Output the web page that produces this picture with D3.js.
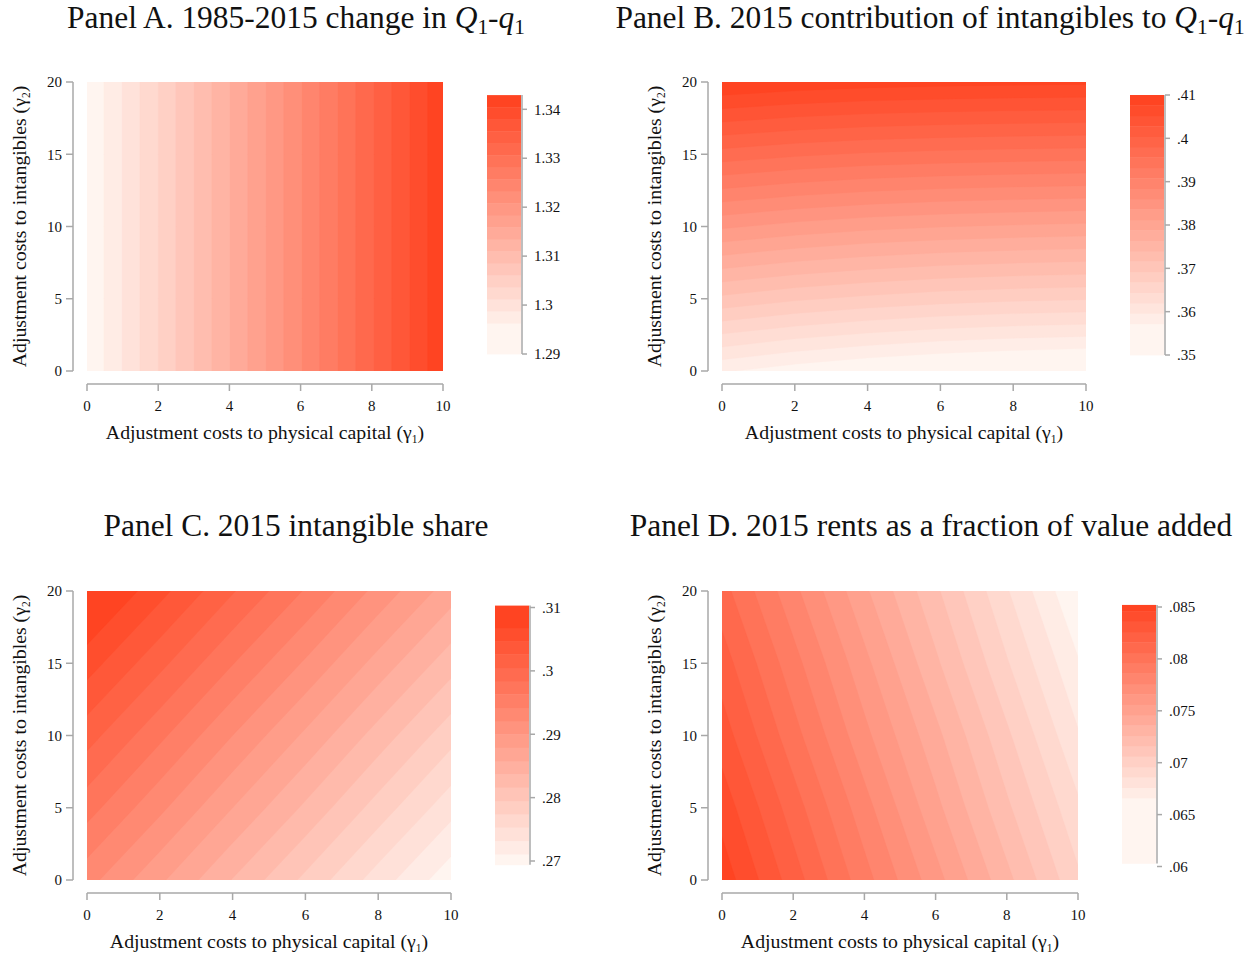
<!DOCTYPE html>
<html><head><meta charset="utf-8">
<script src="https://cdn.jsdelivr.net/npm/d3@7"></script>
<style>
body{margin:0;background:#fff;}
text{font-family:"Liberation Serif","Times New Roman",serif;fill:#111;}
</style>
</head><body>
<svg id="c" width="1254" height="958"></svg>
<script>
// ---------- data ----------
const gamma1 = [0, 2, 4, 6, 8, 10];       // grid columns
const gamma2 = [0, 5, 10, 15, 20];        // grid rows
const xTicks = [0, 2, 4, 6, 8, 10];
const yTicks = [0, 5, 10, 15, 20];

// Panel A: 1985-2015 change in Q1-q1 (rows: gamma2 = 0..20)
const valuesA = [
  [1.2940, 1.3037, 1.3134, 1.3231, 1.3328, 1.3425],
  [1.2940, 1.3037, 1.3134, 1.3231, 1.3328, 1.3425],
  [1.2940, 1.3037, 1.3134, 1.3231, 1.3328, 1.3425],
  [1.2940, 1.3037, 1.3134, 1.3231, 1.3328, 1.3425],
  [1.2940, 1.3037, 1.3134, 1.3231, 1.3328, 1.3425]
];
const cutsA = [1.2963,1.2988,1.3012,1.3037,1.3061,1.3086,1.3110,1.3135,1.3159,1.3184,
               1.3208,1.3233,1.3257,1.3282,1.3306,1.3331,1.3355,1.3380,1.3404];
const ticksA = [1.29, 1.30, 1.31, 1.32, 1.33, 1.34];
const labelsA = ["1.29","1.3","1.31","1.32","1.33","1.34"];

// Panel B: 2015 contribution of intangibles to Q1-q1
const valuesB = [
  [0.3575, 0.3559, 0.3547, 0.3538, 0.3532, 0.3528],
  [0.3710, 0.3696, 0.3686, 0.3678, 0.3673, 0.3670],
  [0.3840, 0.3828, 0.3819, 0.3813, 0.3809, 0.3806],
  [0.3970, 0.3960, 0.3953, 0.3949, 0.3946, 0.3944],
  [0.4100, 0.4092, 0.4087, 0.4084, 0.4082, 0.4081]
];
const cutsB = [0.3572,0.3596,0.3620,0.3644,0.3668,0.3692,0.3716,0.3740,0.3764,0.3788,0.3812,
               0.3836,0.3860,0.3884,0.3908,0.3932,0.3956,0.3980,0.4004,0.4028,0.4052,0.4076];
const ticksB = [0.35, 0.36, 0.37, 0.38, 0.39, 0.40, 0.41];
const labelsB = [".35",".36",".37",".38",".39",".4",".41"];

// Panel C: 2015 intangible share
const valuesC = [
  [0.2929, 0.2883, 0.2836, 0.2790, 0.2743, 0.2697],
  [0.2972, 0.2926, 0.2879, 0.2833, 0.2786, 0.2740],
  [0.3014, 0.2968, 0.2921, 0.2875, 0.2828, 0.2782],
  [0.3057, 0.3011, 0.2964, 0.2918, 0.2871, 0.2825],
  [0.3100, 0.3054, 0.3007, 0.2961, 0.2914, 0.2868]
];
const cutsC = [0.2711,0.2732,0.2753,0.2774,0.2795,0.2816,0.2837,0.2858,0.2879,0.2900,
               0.2921,0.2942,0.2963,0.2984,0.3005,0.3026,0.3047,0.3068];
const ticksC = [0.27, 0.28, 0.29, 0.30, 0.31];
const labelsC = [".27",".28",".29",".3",".31"];

// Panel D: 2015 rents as a fraction of value added
const valuesD = [
  [0.0852, 0.0821, 0.0790, 0.0760, 0.0729, 0.0698],
  [0.0842, 0.0811, 0.0780, 0.0749, 0.0718, 0.0688],
  [0.0831, 0.0800, 0.0769, 0.0739, 0.0708, 0.0677],
  [0.0821, 0.0790, 0.0759, 0.0728, 0.0697, 0.0667],
  [0.0810, 0.0779, 0.0748, 0.0718, 0.0687, 0.0656]
];
const cutsD = [0.0666,0.0676,0.0686,0.0696,0.0706,0.0716,0.0726,0.0736,0.0746,0.0756,
               0.0766,0.0776,0.0786,0.0796,0.0806,0.0816,0.0826,0.0836,0.0846];
const ticksD = [0.060, 0.065, 0.070, 0.075, 0.080, 0.085];
const labelsD = [".06",".065",".07",".075",".08",".085"];

// ---------- layout ----------
const panels = [
  {id:"A", values:valuesA, cuts:cutsA, ticks:ticksA, labels:labelsA, bar:[1.29,1.3429],
   plot:{x0:87,x1:443,y0:82,y1:371}, cb:{x0:487,x1:521,tickLo:354,tickHi:109.3},
   title:{x:296,y:28,pre:"Panel A. 1985-2015 change in ",math:true}},
  {id:"B", values:valuesB, cuts:cutsB, ticks:ticksB, labels:labelsB, bar:[0.35,0.41],
   plot:{x0:722,x1:1086,y0:82,y1:371}, cb:{x0:1130,x1:1164,tickLo:355,tickHi:95},
   title:{x:930,y:28,pre:"Panel B. 2015 contribution of intangibles to ",math:true}},
  {id:"C", values:valuesC, cuts:cutsC, ticks:ticksC, labels:labelsC, bar:[0.2694,0.3103],
   plot:{x0:87,x1:451,y0:591,y1:880}, cb:{x0:495,x1:529,tickLo:861,tickHi:607.5},
   title:{x:296,y:536,pre:"Panel C. 2015 intangible share",math:false}},
  {id:"D", values:valuesD, cuts:cutsD, ticks:ticksD, labels:labelsD, bar:[0.0603,0.0852],
   plot:{x0:722,x1:1078,y0:591,y1:880}, cb:{x0:1122,x1:1156,tickLo:866.5,tickHi:607},
   title:{x:931,y:536,pre:"Panel D. 2015 rents as a fraction of value added",math:false}}
];

const svg = d3.select("#c");
const light = "#fff5f0", dark = "#ff4422";
const axisCol = "#a8a8a8";
const defs = svg.append("defs");
const titleNodes = [];

panels.forEach(p => {
  const g = svg.append("g");
  const P = p.plot;
  const x = d3.scaleLinear().domain([0,10]).range([P.x0,P.x1]);
  const y = d3.scaleLinear().domain([0,20]).range([P.y1,P.y0]);
  const nB = p.cuts.length + 1;
  const col = i => d3.interpolateRgb(light, dark)(i/(nB-1));

  defs.append("clipPath").attr("id","clip"+p.id)
    .append("rect").attr("x",P.x0).attr("y",P.y0).attr("width",P.x1-P.x0).attr("height",P.y1-P.y0);

  // contour fill
  const nx = gamma1.length, ny = gamma2.length;
  const flat = [];
  for (let j=0;j<ny;j++) for (let i=0;i<nx;i++) flat.push(p.values[j][i]);
  const dg1 = gamma1[1]-gamma1[0], dg2 = gamma2[1]-gamma2[0];
  const proj = d3.geoTransform({point:function(gx,gy){
    this.stream.point(x(gamma1[0] + (gx-0.5)*dg1), y(gamma2[0] + (gy-0.5)*dg2));
  }});
  const path = d3.geoPath(proj);
  const contours = d3.contours().size([nx,ny]).thresholds(p.cuts)(flat);
  const cg = g.append("g").attr("clip-path","url(#clip"+p.id+")");
  cg.append("rect").attr("x",P.x0).attr("y",P.y0).attr("width",P.x1-P.x0).attr("height",P.y1-P.y0)
    .attr("fill",col(0));
  cg.selectAll("path.c").data(contours).join("path")
    .attr("d",path).attr("fill",(d,i)=>col(i+1)).attr("stroke",(d,i)=>col(i+1)).attr("stroke-width",0.3);

  // y axis
  const yAx = P.x0 - 14;
  g.append("line").attr("x1",yAx).attr("x2",yAx).attr("y1",y(0)).attr("y2",y(20))
    .attr("stroke",axisCol).attr("stroke-width",1.5);
  yTicks.forEach(t=>{
    g.append("line").attr("x1",yAx-7).attr("x2",yAx).attr("y1",y(t)).attr("y2",y(t))
      .attr("stroke",axisCol).attr("stroke-width",1.5);
    g.append("text").attr("x",yAx-11).attr("y",y(t)).attr("dy","0.35em")
      .attr("text-anchor","end").attr("font-size",15).text(t);
  });
  // x axis
  const xAy = P.y1 + 13;
  g.append("line").attr("x1",x(0)).attr("x2",x(10)).attr("y1",xAy).attr("y2",xAy)
    .attr("stroke",axisCol).attr("stroke-width",1.5);
  xTicks.forEach(t=>{
    g.append("line").attr("x1",x(t)).attr("x2",x(t)).attr("y1",xAy).attr("y2",xAy+7)
      .attr("stroke",axisCol).attr("stroke-width",1.5);
    g.append("text").attr("x",x(t)).attr("y",xAy+27).attr("text-anchor","middle")
      .attr("font-size",15).text(t);
  });
  // x title
  const xt = g.append("text").attr("x",(P.x0+P.x1)/2).attr("y",xAy+55)
    .attr("text-anchor","middle").attr("font-size",19.8);
  xt.append("tspan").text("Adjustment costs to physical capital (γ");
  xt.append("tspan").attr("font-size",11.5).attr("dy",4).text("1");
  xt.append("tspan").attr("dy",-4).text(")");
  // y title
  const yc = (P.y0+P.y1)/2;
  const yt = g.append("text").attr("transform",`translate(${yAx-47},${yc}) rotate(-90)`)
    .attr("text-anchor","middle").attr("font-size",19.8);
  yt.append("tspan").text("Adjustment costs to intangibles (γ");
  yt.append("tspan").attr("font-size",11.5).attr("dy",4).text("2");
  yt.append("tspan").attr("dy",-4).text(")");

  // colorbar
  const cb = p.cb;
  const cy = d3.scaleLinear().domain([p.ticks[0], p.ticks[p.ticks.length-1]]).range([cb.tickLo, cb.tickHi]);
  const edges = [p.bar[0], ...p.cuts, p.bar[1]];
  for (let i=0;i<nB;i++){
    g.append("rect").attr("x",cb.x0).attr("width",cb.x1-cb.x0)
      .attr("y",cy(edges[i+1])).attr("height",cy(edges[i])-cy(edges[i+1])+0.4)
      .attr("fill",col(i));
  }
  const ax = cb.x1 + 1;
  g.append("line").attr("x1",ax).attr("x2",ax).attr("y1",cy(p.bar[0])).attr("y2",cy(p.bar[1]))
    .attr("stroke",axisCol).attr("stroke-width",1.5);
  p.ticks.forEach((t,k)=>{
    g.append("line").attr("x1",ax).attr("x2",ax+5).attr("y1",cy(t)).attr("y2",cy(t))
      .attr("stroke",axisCol).attr("stroke-width",1.5);
    g.append("text").attr("x",ax+12).attr("y",cy(t)).attr("dy","0.35em")
      .attr("font-size",15).text(p.labels[k]);
  });

  // title
  const T = p.title;
  const tt = g.append("text").attr("x",T.x).attr("y",T.y).attr("text-anchor","middle")
    .attr("font-size",28);
  tt.append("tspan").text(T.pre);
  if (T.math){
    tt.append("tspan").attr("font-style","italic").text("Q");
    tt.append("tspan").attr("font-size",19).attr("dy",5).text("1");
    tt.append("tspan").attr("dy",-5).text("-");
    tt.append("tspan").attr("font-style","italic").text("q");
    tt.append("tspan").attr("font-size",19).attr("dy",5).text("1");
  }
  titleNodes.push(tt);
});

// size titles so that Panel A's title spans its width in the reference (458 px)
const wA = titleNodes[0].node().getComputedTextLength();
const fs = 28 * 458 / wA;
titleNodes.forEach(t => {
  t.attr("font-size", fs);
  t.selectAll("tspan").filter(function(){ return this.textContent === "1"; })
    .attr("font-size", fs*0.68).attr("dy", null);
});
titleNodes.forEach(t => {
  const subs = t.selectAll("tspan").nodes();
  subs.forEach((s,i) => {
    if (s.textContent === "1") d3.select(s).attr("dy", fs*0.18);
    else if (i>0 && subs[i-1].textContent === "1") d3.select(s).attr("dy", -fs*0.18);
  });
});
</script>
</body></html>
